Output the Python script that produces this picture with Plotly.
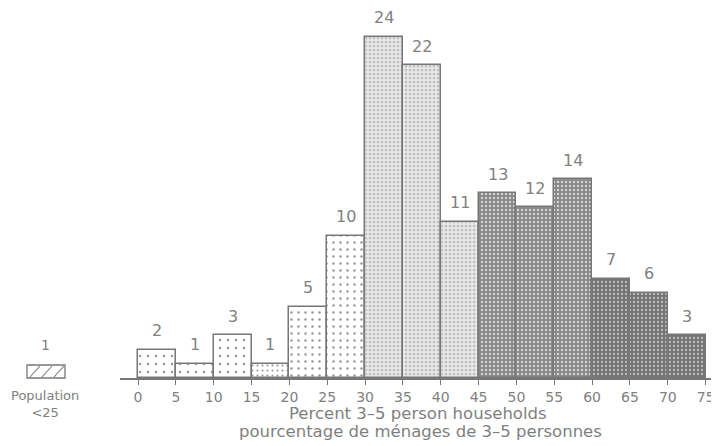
import plotly.graph_objects as go

bin_starts = [0, 5, 10, 15, 20, 25, 30, 35, 40, 45, 50, 55, 60, 65, 70]
counts = [2, 1, 3, 1, 5, 10, 24, 22, 11, 13, 12, 14, 7, 6, 3]
pattern_group = [0, 0, 0, 1, 2, 2, 3, 3, 3, 4, 4, 4, 5, 5, 5]
tick_vals = [0, 5, 10, 15, 20, 25, 30, 35, 40, 45, 50, 55, 60, 65, 70, 75]
x_title_1 = "Percent 3\u20135 person households"
x_title_2 = "pourcentage de ménages de 3\u20135 personnes"
legend_count = "1"
legend_label = "Population<br><25"

# pattern styles per group: (bg, fg, size, solidity)
styles = [
    ("white", "#999999", 8, 0.08),
    ("white", "#999999", 5, 0.14),
    ("white", "#999999", 7, 0.1),
    ("#ededed", "#c2c2c2", 4, 0.45),
    ("#888888", "#d6d6d6", 4, 0.28),
    ("#747474", "#bdbdbd", 4, 0.25),
]

TXT = "#808080"
EDGE = "#777777"
FONT = "DejaVu Sans"

fig = go.Figure()
for gi, (bg, fg, sz, sol) in enumerate(styles):
    xs = [s + 2.5 for s, g in zip(bin_starts, pattern_group) if g == gi]
    ys = [c for c, g in zip(counts, pattern_group) if g == gi]
    fig.add_trace(go.Bar(
        x=xs, y=ys, width=5,
        marker=dict(
            color=bg,
            line=dict(color=EDGE, width=1.5),
            pattern=dict(shape=".", bgcolor=bg, fgcolor=fg, size=sz,
                         solidity=sol, fillmode="replace"),
        ),
        hoverinfo="skip",
    ))

# page has an 8px body margin; work in page pixels and convert
OFF = 8
W, H = 719 - OFF, 446 - OFF
L, R, T, B = 120 - OFF, 2, 8 - OFF, 446 - 378
pw, ph = W - L - R, H - T - B

def px2x(px):
    return (px - OFF - L) / pw

def py2y(py):
    return (H - B - (py - OFF)) / ph

# legend swatch
shapes = [dict(type="rect", xref="paper", yref="paper",
               x0=px2x(27), x1=px2x(65), y0=py2y(378), y1=py2y(365),
               line=dict(color=EDGE, width=1.3), fillcolor="white")]
for a in (30, 42, 54):
    shapes.append(dict(type="line", xref="paper", yref="paper",
                       x0=px2x(a), y0=py2y(377), x1=px2x(a + 10), y1=py2y(366),
                       line=dict(color=EDGE, width=1.1)))

annotations = []
for s, c in zip(bin_starts, counts):
    annotations.append(dict(text=str(c), x=s + 2.5, y=c, xref="x", yref="y",
                            yshift=19, showarrow=False,
                            xanchor="center", yanchor="middle",
                            font=dict(family=FONT, size=16, color=TXT)))

def paper_text(text, px, py, size):
    return dict(text=text, xref="paper", yref="paper", x=px2x(px), y=py2y(py),
                xanchor="center", yanchor="middle", showarrow=False,
                font=dict(family=FONT, size=size, color=TXT))

annotations += [
    paper_text(legend_count, 45, 345, 14),
    paper_text(legend_label, 45, 404, 13),
    paper_text(x_title_1, 418, 414, 16.5),
    paper_text(x_title_2, 420, 431, 16.5),
]

fig.update_layout(
    width=W, height=H, margin=dict(l=L, r=R, t=T, b=B, autoexpand=False),
    paper_bgcolor="white", plot_bgcolor="white", showlegend=False,
    bargap=0, barmode="overlay", shapes=shapes, annotations=annotations,
    xaxis=dict(range=[-2.38, 76.5], tickvals=tick_vals,
               ticktext=[str(v) for v in tick_vals], automargin=False,
               showgrid=False, zeroline=False, showline=True,
               linecolor=EDGE, linewidth=1.5, ticks="outside", ticklen=5,
               tickcolor=EDGE, tickwidth=1.3,
               tickfont=dict(family=FONT, size=14, color=TXT)),
    yaxis=dict(range=[0, ph / 14.21], visible=False, automargin=False),
)

fig.write_html("out.html")
